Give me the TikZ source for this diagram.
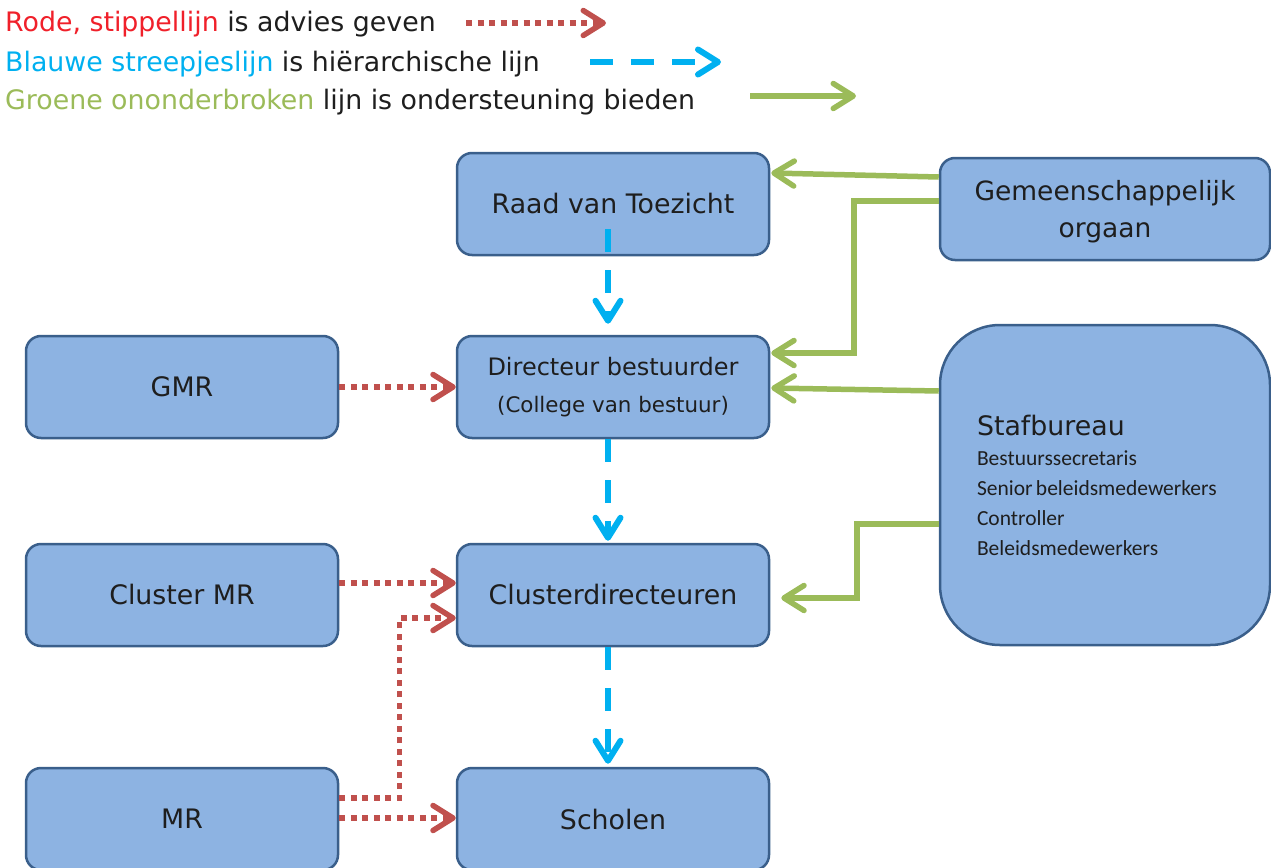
\documentclass[tikz,border=0pt]{standalone}
\usepackage{fontspec}
\setmainfont{DejaVu Sans}
\newfontfamily\carlito{Carlito}
\usetikzlibrary{arrows.meta,calc}
\definecolor{boxfill}{HTML}{8DB3E2}
\definecolor{boxline}{HTML}{3A5F8B}
\definecolor{advred}{HTML}{C0504D}
\definecolor{hierblue}{HTML}{00B0F0}
\definecolor{supgreen}{HTML}{9BBB59}
\definecolor{legred}{HTML}{F0202A}
\definecolor{txt}{HTML}{1E1E1E}
\tikzset{
  orgbox/.style={draw=boxline, fill=boxfill, line width=2.5pt, rounded corners=15pt,
    minimum width=312pt, minimum height=102pt, inner sep=0pt, align=center,
    text=txt, font=\fontsize{26.8}{37}\selectfont},
  stafbox/.style={draw=boxline, fill=boxfill, line width=2.5pt, rounded corners=60pt,
    minimum width=330pt, minimum height=320pt, inner xsep=37pt, inner ysep=0pt,
    text width=256pt, align=left, text=txt},
  advies/.style={draw=advred, line width=5.5pt, dash pattern=on 6pt off 5.5pt,
    -{Straight Barb[length=20pt,width=25pt,round]}},
  hier/.style={draw=hierblue, line width=6pt, dash pattern=on 23pt off 18pt,
    -{Straight Barb[length=20pt,width=25pt,round]}},
  steun/.style={draw=supgreen, line width=5.5pt,
    -{Straight Barb[length=20pt,width=25pt,round]}},
  legtext/.style={anchor=base west, inner sep=0pt, text=txt, font=\fontsize{26.8}{30}\selectfont}
}
\begin{document}
\begin{tikzpicture}[x=1pt,y=-1pt]
\useasboundingbox (0,0) rectangle (1271,867);
% legend
\node[legtext] (leg1) at (5,32) {\textcolor{legred}{Rode, stippellijn} is advies geven};
\node[legtext] (leg2) at (5,71) {\textcolor{hierblue}{Blauwe streepjeslijn} is hiërarchische lijn};
\node[legtext] (leg3) at (5,109) {\textcolor{supgreen}{Groene ononderbroken} lijn is ondersteuning bieden};
\coordinate (l1a) at (466,23); \coordinate (l1b) at (606,23);
\coordinate (l2a) at (590,62); \coordinate (l2b) at (721,62);
\coordinate (l3a) at (750,96); \coordinate (l3b) at (856,96);
\draw[advies] (l1a) -- (l1b);
\draw[hier] (l2a) -- (l2b);
\draw[steun] (l3a) -- (l3b);
% boxes
\node[orgbox] (raad) at (613,204) {Raad van Toezicht};
\node[orgbox, minimum width=330pt, text depth=0pt, font=\fontsize{26.5}{37}\selectfont] (gem) at (1105,209) {Gemeenschappelijk\\orgaan};
\node[orgbox] (gmr) at (182,387) {GMR};
\node[orgbox] (dir) at (613,387) {{\fontsize{24}{36}\selectfont Directeur bestuurder}\\{\fontsize{21.4}{36}\selectfont (College van bestuur)}};
\node[stafbox] (staf) at (1105,485) {\fontsize{26.8}{32}\selectfont Stafbureau\par
  \carlito\fontsize{21.5}{30}\selectfont Bestuurssecretaris\par Senior beleidsmedewerkers\par Controller\par Beleidsmedewerkers\par};
\node[orgbox] (cmr) at (182,595) {Cluster MR};
\node[orgbox] (cd) at (613,595) {Clusterdirecteuren};
\node[orgbox] (mr) at (182,819) {MR};
\node[orgbox] (sch) at (613,819) {Scholen};
% hierarchy
\draw[hier] ($(raad.south)+(-5,-27)$) -- ($(dir.north)+(-5,-11)$);
\draw[hier] ($(dir.south)+(-5,0)$) -- ($(cd.north)+(-5,-2)$);
\draw[hier] ($(cd.south)+(-5,0)$) -- ($(sch.north)+(-5,-3)$);
% advice
\draw[advies] (gmr.east) -- (dir.west);
\draw[advies] ($(cmr.east)+(0,-12)$) -- ($(cd.west)+(0,-12)$);
\draw[advies] ($(mr.east)+(0,-21)$) -- ++(60,0) |- ($(cd.west)+(0,23)$);
\draw[advies] ($(mr.east)+(0,-1)$) -- ($(sch.west)+(0,-1)$);
% support
\draw[steun] ($(gem.west)+(0,-32)$) -- ($(raad.east)+(1,-31)$);
\draw[steun] ($(gem.west)+(0,-8)$) -- ++(-85,0) |- ($(dir.east)+(1,-34)$);
\draw[steun] ($(staf.west)+(0,-94)$) -- ($(dir.east)+(1,1)$);
\draw[steun] ($(staf.west)+(0,39)$) -- ++(-82,0) |- ($(cd.east)+(11,3)$);
\end{tikzpicture}
\end{document}
